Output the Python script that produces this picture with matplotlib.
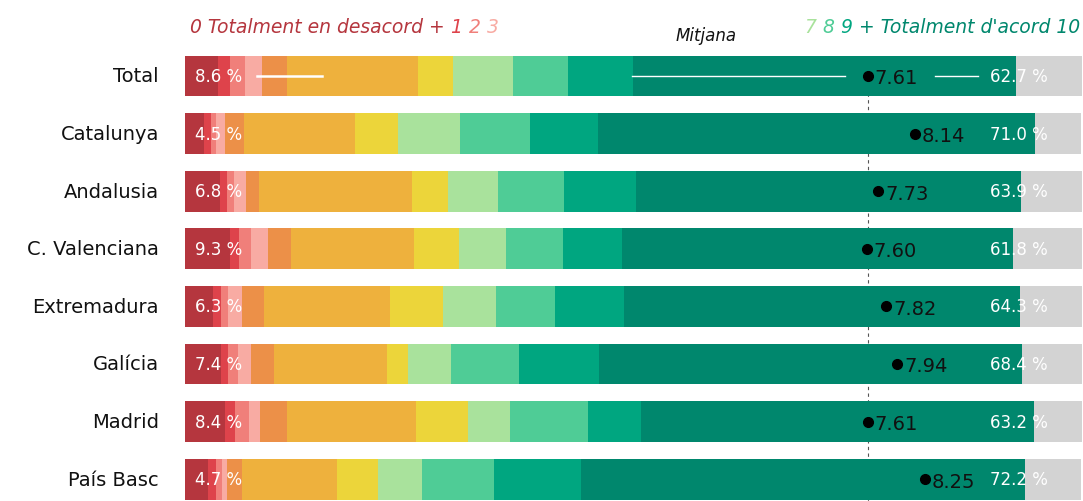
import numpy as np
import matplotlib.pyplot as plt

regions = ['Total', 'Catalunya', 'Andalusia', 'C. Valenciana', 'Extremadura',
           'Galícia', 'Madrid', 'País Basc']

# % de respostes per puntuació (0 ... 10) i NS/NC
s0 = [3.7, 2.1, 3.9, 5.0, 3.1, 4.0, 4.5, 2.6]
s1 = [1.3, 0.8, 0.8, 1.0, 0.9, 0.8, 1.1, 0.9]
s2 = [1.7, 0.6, 0.8, 1.4, 0.8, 1.1, 1.5, 0.6]
s3 = [1.9, 1.0, 1.3, 1.9, 1.5, 1.5, 1.3, 0.6]
s4 = [2.8, 2.1, 1.4, 2.5, 2.5, 2.5, 3.0, 1.6]
s5 = [14.6, 12.4, 17.1, 13.7, 14.0, 12.6, 14.3, 10.6]
s6 = [3.9, 4.8, 4.0, 5.0, 6.0, 2.4, 5.8, 4.6]
s7 = [6.7, 6.9, 5.6, 5.3, 5.9, 4.8, 4.7, 4.9]
s8 = [6.1, 7.8, 7.4, 6.3, 6.5, 7.5, 8.7, 8.1]
s9 = [7.2, 7.5, 8.0, 6.6, 7.7, 8.9, 5.9, 9.6]
s10 = [42.7, 48.8, 42.9, 43.6, 44.2, 47.2, 43.9, 49.6]
nsnc = [7.4, 5.1, 6.9, 7.9, 7.0, 6.7, 5.5, 6.2]

disagree_pct = [8.6, 4.5, 6.8, 9.3, 6.3, 7.4, 8.4, 4.7]
agree_pct = [62.7, 71.0, 63.9, 61.8, 64.3, 68.4, 63.2, 72.2]
means = [7.61, 8.14, 7.73, 7.60, 7.82, 7.94, 7.61, 8.25]

colors = ['#b5363e', '#de434b', '#f07f7a', '#f8aba3', '#ec9048', '#eeb13d',
          '#ecd53a', '#a9e29c', '#4fcc96', '#00a680', '#00876d', '#d3d3d3']

W, H = 1083, 502
fig = plt.figure(figsize=(W / 100, H / 100), dpi=100)
fig.patch.set_facecolor('white')
ax = fig.add_axes([185 / W, 0, 897 / W, (H - 48.2) / H])
ax.set_xlim(0, 100)
ax.set_ylim(-0.5 + (H - 48.2) / 57.6, -0.5)
ax.axis('off')

y = np.arange(len(regions))
segments = [s0, s1, s2, s3, s4, s5, s6, s7, s8, s9, s10, nsnc]
left = np.zeros(len(regions))
for vals, c in zip(segments, colors):
    ax.barh(y, vals, left=left, height=0.71, color=c, zorder=2)
    left += np.array(vals)

# línia de la mitjana total
ax.plot([means[0] * 10] * 2, [0.3, 8], color='#555555', lw=0.8,
        ls=(0, (3, 3)), zorder=1, clip_on=False)

for i, r in enumerate(regions):
    ax.text(-2.9, i, r, ha='right', va='center', fontsize=14, color='#111111')
    ax.text(1.1, i, f'{disagree_pct[i]:.1f} %', ha='left', va='center',
            fontsize=12, color='white', zorder=4)
    ax.text(89.7, i, f'{agree_pct[i]:.1f} %', ha='left', va='center',
            fontsize=12, color='white', zorder=4)
    ax.plot(means[i] * 10, i, 'o', color='black', ms=7, zorder=5)
    ax.annotate(f'{means[i]:.2f}', (means[i] * 10, i), xytext=(5, 0),
                textcoords='offset points', ha='left', va='center_baseline',
                fontsize=14, color='#111111', zorder=5)

# connectors a la fila Total
for x0, x1, lw in [(8.0, 15.3, 1.8), (49.8, 73.6, 1.0), (83.6, 88.4, 1.0)]:
    ax.plot([x0, x1], [0, 0], color='white', lw=lw, zorder=3)

ax.text(58.1, -0.72, 'Mitjana', ha='center', va='center', fontsize=12,
        style='italic', color='#111111')

# capçaleres multicolor
fig.canvas.draw()
renderer = fig.canvas.get_renderer()


def header(parts, x_px, y_px, align='left'):
    kw = dict(fontsize=13.5, style='italic', va='baseline')
    if align == 'right':
        parts = parts[::-1]
    x = x_px
    for txt, col in parts:
        t = fig.text(x / W, 1 - y_px / H, txt, color=col, ha=align, **kw)
        w = t.get_window_extent(renderer).width
        x = x + w if align == 'left' else x - w


header([('0 Totalment en desacord + ', colors[0]), ('1 ', colors[1]),
        ('2 ', colors[2]), ('3', colors[3])], 190, 33)
header([('7 ', colors[7]), ('8 ', colors[8]), ('9 ', colors[9]),
        ("+ Totalment d'acord 10", colors[10])], 1080, 33, align='right')

fig.savefig('out.png', dpi=100, facecolor='white')
